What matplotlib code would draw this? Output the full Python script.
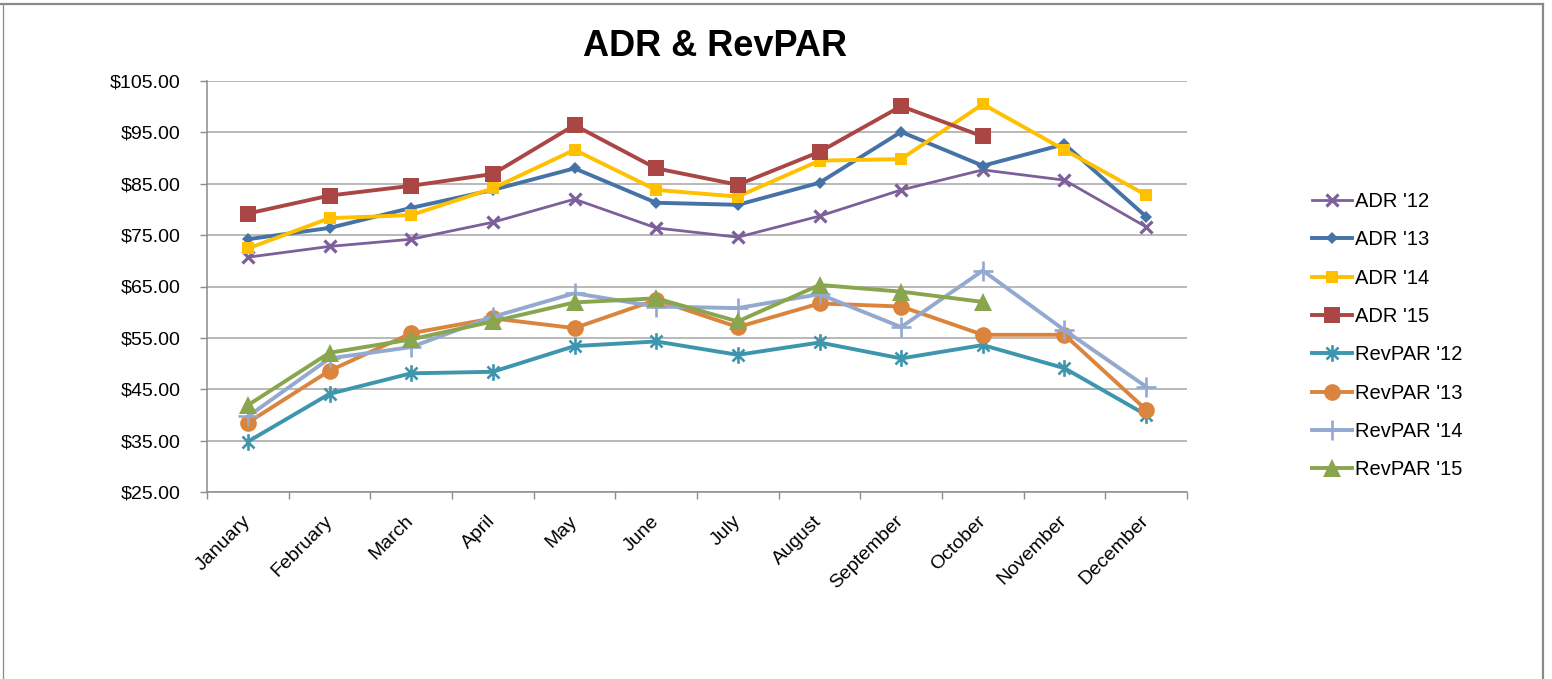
import matplotlib
matplotlib.use("Agg")
import matplotlib.pyplot as plt
from matplotlib.lines import Line2D
from matplotlib.path import Path
import numpy as np

plt.rcParams['font.family'] = ['Liberation Sans', 'DejaVu Sans']

months = ["January", "February", "March", "April", "May", "June", "July",
          "August", "September", "October", "November", "December"]

adr_12 = [70.7, 72.8, 74.2, 77.5, 82.0, 76.4, 74.6, 78.7, 83.8, 87.7, 85.7, 76.6]
adr_13 = [74.2, 76.4, 80.3, 83.8, 88.0, 81.3, 80.9, 85.2, 95.1, 88.5, 92.7, 78.6]
adr_14 = [72.4, 78.3, 78.9, 84.1, 91.6, 83.8, 82.5, 89.5, 89.8, 100.5, 91.6, 82.8]
adr_15 = [79.2, 82.7, 84.6, 86.9, 96.4, 88.0, 84.8, 91.2, 100.1, 94.2, None, None]
rev_12 = [34.8, 44.1, 48.1, 48.4, 53.4, 54.3, 51.7, 54.1, 51.0, 53.6, 49.1, 40.0]
rev_13 = [38.5, 48.6, 55.9, 58.8, 56.9, 62.4, 57.1, 61.7, 61.1, 55.6, 55.6, 41.0]
rev_14 = [39.7, 51.0, 53.2, 59.1, 63.7, 61.1, 60.8, 63.5, 57.1, 68.1, 56.5, 45.5]
rev_15 = [41.9, 52.1, 54.7, 58.2, 61.9, 62.7, 58.2, 65.3, 64.0, 62.0, None, None]

y_ticks = [25, 35, 45, 55, 65, 75, 85, 95, 105]
y_labels = ["$%.2f" % v for v in y_ticks]

star = Path([(0, -1), (0, 1), (-0.72, -0.72), (0.72, 0.72), (-0.72, 0.72), (0.72, -0.72)],
            [Path.MOVETO, Path.LINETO, Path.MOVETO, Path.LINETO, Path.MOVETO, Path.LINETO])

series = [
    ("ADR '12", adr_12, dict(color="#7D5F9A", lw=2.0, marker="x", ms=8, mew=2.3)),
    ("ADR '13", adr_13, dict(color="#4572A7", lw=2.8, marker="D", ms=6.5, mew=0)),
    ("ADR '14", adr_14, dict(color="#FFC000", lw=2.8, marker="s", ms=8.5, mew=0)),
    ("ADR '15", adr_15, dict(color="#AA4643", lw=2.8, marker="s", ms=12, mew=0)),
    ("RevPAR '12", rev_12, dict(color="#3D96AE", lw=2.8, marker=star, ms=12, mew=1.9)),
    ("RevPAR '13", rev_13, dict(color="#DB843D", lw=2.8, marker="o", ms=12, mew=0)),
    ("RevPAR '14", rev_14, dict(color="#93A9CF", lw=2.8, marker="+", ms=14, mew=1.9)),
    ("RevPAR '15", rev_15, dict(color="#89A54E", lw=2.8, marker="^", ms=13, mew=0)),
]

fig = plt.figure(figsize=(15.52, 6.79), dpi=100)
W, H = 1552, 679
ax = fig.add_axes([207 / W, 1 - 492 / H, 980 / W, 411 / H])

x = np.arange(len(months))
for name, vals, st in series:
    y = np.array([np.nan if v is None else v for v in vals], dtype=float)
    ax.plot(x, y, label=name, color=st["color"], lw=st["lw"], marker=st["marker"],
            ms=st["ms"], mew=st["mew"], mec=st["color"], mfc=st["color"],
            solid_joinstyle="round", clip_on=False)

ax.set_xlim(-0.5, len(months) - 0.5)
ax.set_ylim(25, 105)
ax.set_yticks(y_ticks)
ax.set_yticklabels(y_labels, fontsize=14)
ax.set_xticks(x)
ax.set_xticklabels(months, fontsize=14, rotation=45, ha="right", va="center",
                   rotation_mode="anchor")
ax.set_xticks(np.arange(-0.5, len(months)), minor=True)
ax.tick_params(axis="x", which="major", length=0, pad=19)
ax.tick_params(axis="x", which="minor", length=5, color="#8c8c8c", width=1, direction="out")
ax.tick_params(axis="y", length=5, color="#8c8c8c", width=1, direction="out", pad=14)

ax.grid(axis="y", color="#a6a6a6", lw=1.1)
ax.set_axisbelow(True)
for s in ["top", "right"]:
    ax.spines[s].set_visible(False)
for s in ["left", "bottom"]:
    ax.spines[s].set_color("#8c8c8c")
    ax.spines[s].set_linewidth(1.1)

fig.text(715 / W, 1 - 46 / H, "ADR & RevPAR", fontsize=26, fontweight="bold",
         ha="center", va="center")

leg = fig.legend(loc="upper left", bbox_to_anchor=(1312 / W, 1 - 192 / H),
                 frameon=False, fontsize=14.5, handlelength=2.0, handletextpad=0.15,
                 labelspacing=0.96, borderpad=0, borderaxespad=0)

# chart border
fig.add_artist(Line2D([0, 1543 / W], [1 - 3.5 / H, 1 - 3.5 / H], transform=fig.transFigure,
                      color="#8a8a8a", lw=1.6))
fig.add_artist(Line2D([2.5 / W, 2.5 / W], [0, 1 - 3.5 / H], transform=fig.transFigure,
                      color="#8a8a8a", lw=0.9))
fig.add_artist(Line2D([1543 / W, 1543 / W], [0, 1 - 3.5 / H], transform=fig.transFigure,
                      color="#8a8a8a", lw=1.6))

fig.savefig("out.png", dpi=100)
